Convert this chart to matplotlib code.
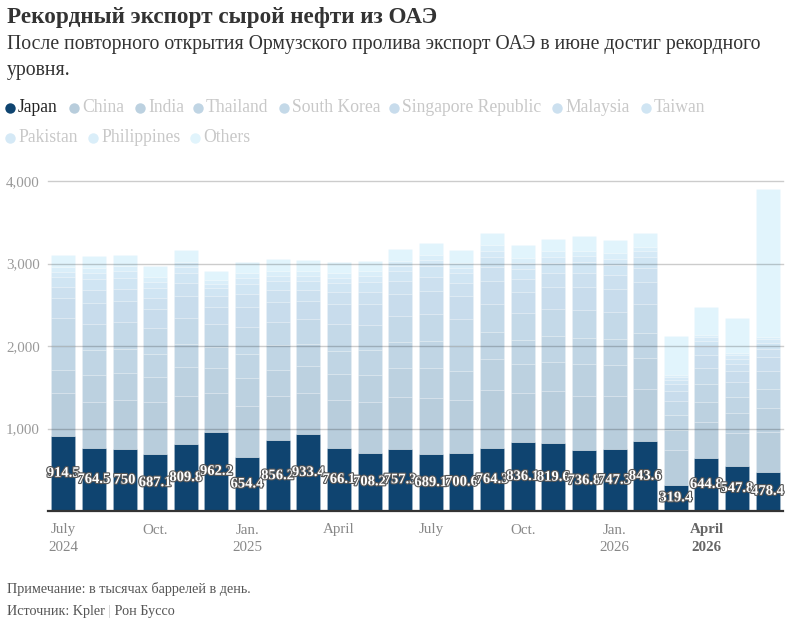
import matplotlib
matplotlib.use("Agg")
import matplotlib.pyplot as plt
import matplotlib.patheffects as pe
import numpy as np

plt.rcParams['font.family'] = ['Liberation Serif', 'DejaVu Serif']

months = ["Jul 2024", "Aug 2024", "Sep 2024", "Oct 2024", "Nov 2024", "Dec 2024",
          "Jan 2025", "Feb 2025", "Mar 2025", "Apr 2025", "May 2025", "Jun 2025",
          "Jul 2025", "Aug 2025", "Sep 2025", "Oct 2025", "Nov 2025", "Dec 2025",
          "Jan 2026", "Feb 2026", "Mar 2026", "Apr 2026", "May 2026", "Jun 2026"]

japan = [914.5, 764.5, 750, 687.1, 809.8, 962.2, 654.4, 856.2, 933.4, 766.1, 708.2, 757.3,
         689.1, 700.6, 764.3, 836.1, 819.6, 736.8, 747.3, 843.6, 319.4, 644.8, 547.8, 478.4]
china = [512, 560, 600, 640, 590, 470, 620, 540, 500, 580, 610, 620,
         680, 650, 700, 600, 640, 660, 650, 640, 420, 430, 400, 480]
india = [283, 330, 320, 300, 350, 300, 340, 310, 320, 310, 330, 360,
         370, 350, 380, 340, 350, 380, 370, 370, 240, 250, 240, 290]
thailand = [291, 300, 290, 270, 280, 250, 290, 300, 270, 280, 300, 310,
            320, 300, 320, 300, 310, 320, 320, 310, 180, 210, 190, 230]
south_korea = [335, 310, 330, 320, 310, 280, 320, 290, 300, 330, 310, 320,
               330, 330, 340, 320, 330, 340, 330, 340, 170, 200, 180, 220]
singapore = [243, 260, 250, 230, 270, 210, 250, 240, 220, 240, 250, 260,
             280, 270, 280, 260, 270, 280, 270, 270, 130, 160, 140, 170]
malaysia = [141, 160, 150, 140, 150, 130, 160, 140, 140, 150, 150, 160,
            170, 160, 170, 160, 160, 170, 170, 170, 80, 100, 90, 100]
taiwan = [121, 130, 140, 120, 130, 100, 120, 110, 110, 110, 120, 120,
          130, 120, 130, 120, 130, 130, 130, 130, 50, 70, 60, 70]
pakistan = [61, 70, 75, 70, 65, 55, 70, 60, 60, 60, 65, 65,
            70, 70, 72, 65, 70, 70, 70, 72, 35, 40, 40, 45]
philippines = [60, 62, 62, 63, 59, 48, 64, 59, 59, 58, 61, 60,
               63, 59, 64, 63, 67, 63, 68, 60, 26, 28, 27, 30]
others = [141, 140, 140, 130, 150, 100, 130, 150, 130, 130, 130, 140,
          150, 150, 150, 160, 150, 180, 160, 160, 475, 344, 425, 1790]

series_names = ["Japan", "China", "India", "Thailand", "South Korea", "Singapore Republic",
                "Malaysia", "Taiwan", "Pakistan", "Philippines", "Others"]
series_values = [japan, china, india, thailand, south_korea, singapore, malaysia,
                 taiwan, pakistan, philippines, others]
colors = ["#0f4470", "#b8cddc", "#bcd1e0", "#c0d5e4", "#c4d9e8", "#c8dcec",
          "#cce0ef", "#d0e5f3", "#d5e9f6", "#daeef9", "#e1f4fc"]

tick_labels = {0: "July\n2024", 3: "Oct.", 6: "Jan.\n2025", 9: "April", 12: "July",
               15: "Oct.", 18: "Jan.\n2026", 21: "April\n2026"}

W, H = 795, 623
fig = plt.figure(figsize=(W / 100, H / 100), dpi=100)
fig.patch.set_facecolor("white")

ax_left, ax_right, ax_top, ax_bot = 48, 783, 181, 511
ax = fig.add_axes([ax_left / W, 1 - ax_bot / H, (ax_right - ax_left) / W, (ax_bot - ax_top) / H])
x = np.arange(len(months))
bottom = np.zeros(len(months))
for name, vals, c in zip(series_names, series_values, colors):
    v = np.array(vals, dtype=float)
    ax.bar(x, v, bottom=bottom, width=0.78, color=c, edgecolor=(1, 1, 1, 0.2),
           linewidth=0.5, zorder=2)
    bottom += v

ax.set_xlim(-0.5, len(months) - 0.5)
ax.set_ylim(0, 4000)
for g in [1000, 2000, 3000, 4000]:
    ax.axhline(g, color=(0, 0, 0, 0.2), lw=1, zorder=3, clip_on=False)
ax.axhline(0, color="#333333", lw=1.6, zorder=4, clip_on=False)
for s in ax.spines.values():
    s.set_visible(False)
ax.set_yticks([1000, 2000, 3000, 4000])
ax.set_yticklabels(["1,000", "2,000", "3,000", "4,000"])
ax.tick_params(axis="y", length=0, pad=6, labelsize=10.8, labelcolor="#999999")
ax.set_xticks(list(tick_labels.keys()))
ax.set_xticklabels(list(tick_labels.values()))
ax.tick_params(axis="x", length=0, pad=9, labelsize=10.8, labelcolor="#888888")
for lbl in ax.get_xticklabels():
    lbl.set_linespacing(1.45)
    if "2026" in lbl.get_text() and "April" in lbl.get_text():
        lbl.set_fontweight("bold")
        lbl.set_color("#666666")

for i, v in enumerate(japan):
    txt = f"{v:g}"
    ax.text(i, v / 2, txt, ha="center", va="center", color="white", fontsize=10.5,
            fontweight="bold", zorder=6,
            path_effects=[pe.withStroke(linewidth=1.6, foreground="#555555")])

# overlay in pixel coordinates for texts
ov = fig.add_axes([0, 0, 1, 1])
ov.set_xlim(0, W)
ov.set_ylim(H, 0)
ov.axis("off")
ov.patch.set_alpha(0)

ov.text(7, 17, "Рекордный экспорт сырой нефти из ОАЭ", fontsize=16.7, fontweight="bold",
        color="#333333", va="center", ha="left")
ov.text(7, 45, "После повторного открытия Ормузского пролива экспорт ОАЭ в июне достиг рекордного",
        fontsize=14.2, color="#333333", va="center", ha="left")
ov.text(7, 70, "уровня.", fontsize=14.2, color="#333333", va="center", ha="left")

legend_pos = [(10, 108), (74, 108), (140, 108), (198, 108), (284, 108), (394, 108),
              (557, 108), (646, 108), (10, 138), (93, 138), (195, 138)]
for (px, py), name, c in zip(legend_pos, series_names, colors):
    ov.plot([px], [py], marker="o", ms=7.5, color=c, mec="none")
    ov.text(px + 8, py, name, fontsize=12.7, va="center", ha="left",
            color="#222222" if name == "Japan" else "#c8c8c8")

ov.text(7, 589, "Примечание: в тысячах баррелей в день.", fontsize=10.2, color="#555555",
        va="center", ha="left")
t1 = ov.text(7, 611, "Источник: Kpler ", fontsize=10.2, color="#555555", va="center", ha="left")
fig.canvas.draw()
bb = t1.get_window_extent()
t2 = ov.text(0, 0, "|", fontsize=10.2, color="#cccccc", va="center", ha="left")
t2.set_transform(matplotlib.transforms.IdentityTransform())
t2.set_position((bb.x1, H - 611))
fig.canvas.draw()
bb2 = t2.get_window_extent()
t3 = ov.text(0, 0, " Рон Буссо", fontsize=10.2, color="#555555", va="center", ha="left")
t3.set_transform(matplotlib.transforms.IdentityTransform())
t3.set_position((bb2.x1, H - 611))

fig.savefig("out.png", dpi=100, facecolor="white")
